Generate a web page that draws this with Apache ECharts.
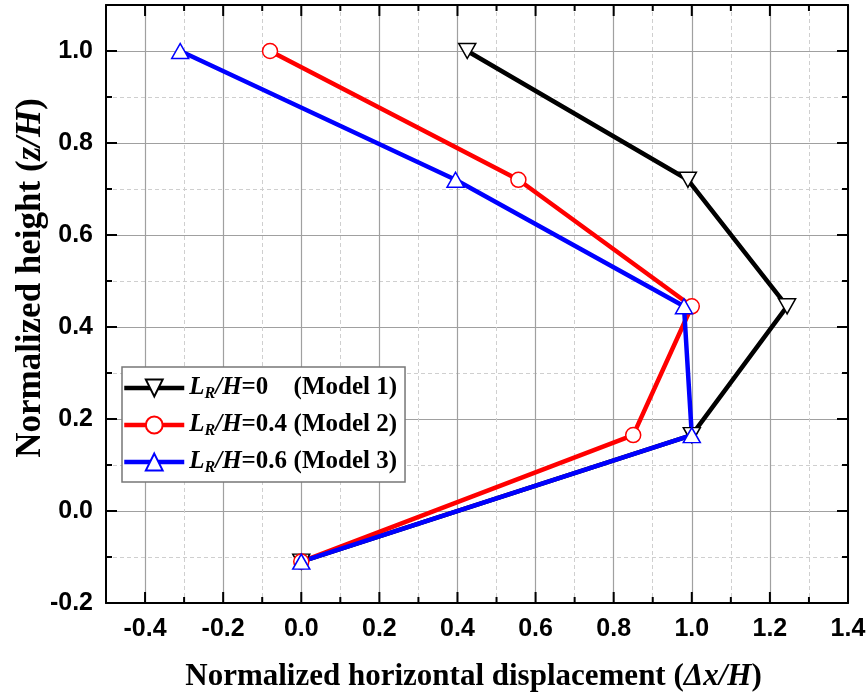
<!DOCTYPE html>
<html>
<head>
<meta charset="utf-8">
<script src="https://cdn.jsdelivr.net/npm/echarts@6/dist/echarts.min.js"></script>
<style>
  html, body { margin: 0; padding: 0; background: #fff; }
  #chart { width: 868px; height: 698px; }
</style>
</head>
<body>
<div id="chart"></div>
<script>
// Normalized heights (z/H) of the measuring points, shared by all models
const heights = [1.0, 0.72, 0.445, 0.165, -0.11];
// Normalized horizontal displacement (Δx/H) per model
const model1 = [0.425, 0.99, 1.244, 1.0, 0.0];
const model2 = [-0.08, 0.556, 1.0, 0.85, 0.0];
const model3 = [-0.31, 0.395, 0.98, 1.0, 0.0];
const modelNames = ['Model 1', 'Model 2', 'Model 3'];
const ratioLabels = ['0', '0.4', '0.6'];

// Tick positions
const xMajor = [-0.4, -0.2, 0, 0.2, 0.4, 0.6, 0.8, 1.0, 1.2, 1.4];
const xMinor = [-0.5, -0.3, -0.1, 0.1, 0.3, 0.5, 0.7, 0.9, 1.1, 1.3];
const yMajor = [-0.2, 0, 0.2, 0.4, 0.6, 0.8, 1.0];
const yMinor = [-0.1, 0.1, 0.3, 0.5, 0.7, 0.9];

const X_MIN = -0.5, X_MAX = 1.4, Y_MIN = -0.2, Y_MAX = 1.1;

const SERIF = '"Liberation Serif", "Times New Roman", serif';
const SANS = '"Liberation Sans", Arial, sans-serif';

const chart = echarts.init(document.getElementById('chart'));

function pairs(xs) { return xs.map((x, i) => [x, heights[i]]); }

const fmt = v => (Math.abs(v) < 1e-9 ? 0 : v).toFixed(1);
const blackStroke = { color: '#000', width: 2 };

// Grid-line layer (drawn below the series)
function gridAxis(position, min, max, values, lineStyle, extra) {
  return Object.assign({
    type: 'value', position: position, min: min, max: max, z: 0,
    axisLine: { show: false, onZero: false },
    axisTick: { show: false, customValues: values },
    axisLabel: { show: false },
    splitLine: { show: true, lineStyle: lineStyle }
  }, extra || {});
}

// Frame edge
function frameAxis(position, min, max) {
  return {
    type: 'value', position: position, min: min, max: max, z: 5,
    axisLine: { show: true, onZero: false, lineStyle: blackStroke },
    axisTick: { show: false }, axisLabel: { show: false }, splitLine: { show: false }
  };
}

const minorGrid = { color: '#cfcfcf', width: 1, type: [4, 3] };
const majorGrid = { color: '#a0a0a0', width: 1.2 };
const labelStyle = { fontFamily: SANS, fontWeight: 'bold', fontSize: 25, color: '#000' };

function titleRich(size) {
  return {
    t: { fontFamily: SERIF, fontWeight: 'bold', fontSize: size, color: '#000' },
    ti: { fontFamily: SERIF, fontWeight: 'bold', fontStyle: 'italic', fontSize: size, color: '#000' }
  };
}

const xAxes = [
  // main x axis: carries the data, labels at major values, dashed minor grid
  gridAxis('bottom', X_MIN, X_MAX, xMinor, minorGrid, {
    name: '{t|Normalized horizontal displacement (}{ti|Δx/H}{t|)}',
    nameLocation: 'middle', nameGap: 58, nameMoveOverlap: false,
    nameTextStyle: { rich: titleRich(31), padding: [0, 7, 0, 0] },
    axisLabel: Object.assign({ show: true, customValues: xMajor, margin: 14, formatter: fmt }, labelStyle)
  }),
  gridAxis('bottom', X_MIN, X_MAX, xMajor, majorGrid),
  frameAxis('bottom', X_MIN, X_MAX),
  frameAxis('top', X_MIN, X_MAX)
];

const yAxes = [
  gridAxis('left', Y_MIN, Y_MAX, yMinor, minorGrid, {
    name: '{t|Normalized height (}{ti|z/H}{t|)}',
    nameLocation: 'middle', nameGap: 58, nameRotate: 90, nameMoveOverlap: false,
    nameTextStyle: { rich: titleRich(35), padding: [0, 0, 0, 52] },
    axisLabel: Object.assign({ show: true, customValues: yMajor, margin: 13, formatter: fmt }, labelStyle)
  }),
  gridAxis('left', Y_MIN, Y_MAX, yMajor, majorGrid),
  frameAxis('left', Y_MIN, Y_MAX),
  frameAxis('right', Y_MIN, Y_MAX)
];

// Inward tick marks on all four frame edges: rows of [side, value, isMajor]
// side: 0 bottom, 1 top, 2 left, 3 right
const tickRows = [];
[0, 1].forEach(side => {
  xMajor.forEach(v => tickRows.push([side, v, 1]));
  xMinor.forEach(v => tickRows.push([side, v, 0]));
});
[2, 3].forEach(side => {
  yMajor.forEach(v => tickRows.push([side, v, 1]));
  yMinor.forEach(v => tickRows.push([side, v, 0]));
});

const MAJOR_LEN = 11, MINOR_LEN = 6;

function renderTick(params, api) {
  const side = api.value(0), v = api.value(1);
  const len = api.value(2) ? MAJOR_LEN : MINOR_LEN;
  let p, q;
  if (side === 0) { p = api.coord([v, Y_MIN]); q = [p[0], p[1] - len]; }
  else if (side === 1) { p = api.coord([v, Y_MAX]); q = [p[0], p[1] + len]; }
  else if (side === 2) { p = api.coord([X_MIN, v]); q = [p[0] + len, p[1]]; }
  else { p = api.coord([X_MAX, v]); q = [p[0] - len, p[1]]; }
  return {
    type: 'line',
    shape: { x1: p[0], y1: p[1], x2: q[0], y2: q[1] },
    style: { stroke: '#000', lineWidth: 2 }
  };
}

function makeSeries(name, xs, color, symbol, rotate, size) {
  return {
    name: name,
    type: 'line',
    xAxisIndex: 0,
    yAxisIndex: 0,
    z: 2,
    data: pairs(xs),
    symbol: symbol,
    symbolRotate: rotate,
    symbolSize: size,
    showAllSymbol: true,
    lineStyle: { color: color, width: 4.5 },
    itemStyle: { color: '#fff', borderColor: color, borderWidth: 1.5 },
    emphasis: { disabled: true },
    animation: false
  };
}

const legendRich = {
  i: { fontFamily: SERIF, fontWeight: 'bold', fontStyle: 'italic', fontSize: 25, color: '#000', lineHeight: 30 },
  s: { fontFamily: SERIF, fontWeight: 'bold', fontStyle: 'italic', fontSize: 16, color: '#000', padding: [12, 0, 0, 0], lineHeight: 30 },
  e: { fontFamily: SERIF, fontWeight: 'bold', fontSize: 25, color: '#000', width: 52, lineHeight: 30 },
  m: { fontFamily: SERIF, fontWeight: 'bold', fontSize: 25, color: '#000', lineHeight: 30 }
};

chart.setOption({
  backgroundColor: '#fff',
  animation: false,
  grid: { left: 106, right: 20, top: 5, bottom: 95, containLabel: false, outerBoundsMode: 'none' },
  xAxis: xAxes,
  yAxis: yAxes,
  legend: {
    orient: 'vertical',
    left: 122,
    top: 367,
    z: 6,
    data: modelNames,
    itemWidth: 60,
    itemHeight: 21,
    itemGap: 9,
    padding: [7, 8, 6, 0],
    borderColor: '#777',
    borderWidth: 1.5,
    backgroundColor: '#fff',
    selectedMode: false,
    lineStyle: { width: 4.5 },
    formatter: function (name) {
      const k = modelNames.indexOf(name);
      return '{i|L}{s|R}{i|/H}{e|=' + ratioLabels[k] + '}{m|(' + name + ')}';
    },
    textStyle: { rich: legendRich }
  },
  series: [
    makeSeries(modelNames[0], model1, '#000000', 'triangle', 180, [17, 15]),
    makeSeries(modelNames[1], model2, '#ff0000', 'circle', 0, 15),
    makeSeries(modelNames[2], model3, '#0000ff', 'triangle', 0, [17, 15]),
    {
      name: 'frame ticks',
      type: 'custom',
      xAxisIndex: 0,
      yAxisIndex: 0,
      z: 4,
      silent: true,
      clip: false,
      dimensions: ['side', 'value', 'major'],
      encode: { x: -1, y: -1 },
      data: tickRows,
      renderItem: renderTick,
      animation: false
    }
  ]
});
</script>
</body>
</html>
